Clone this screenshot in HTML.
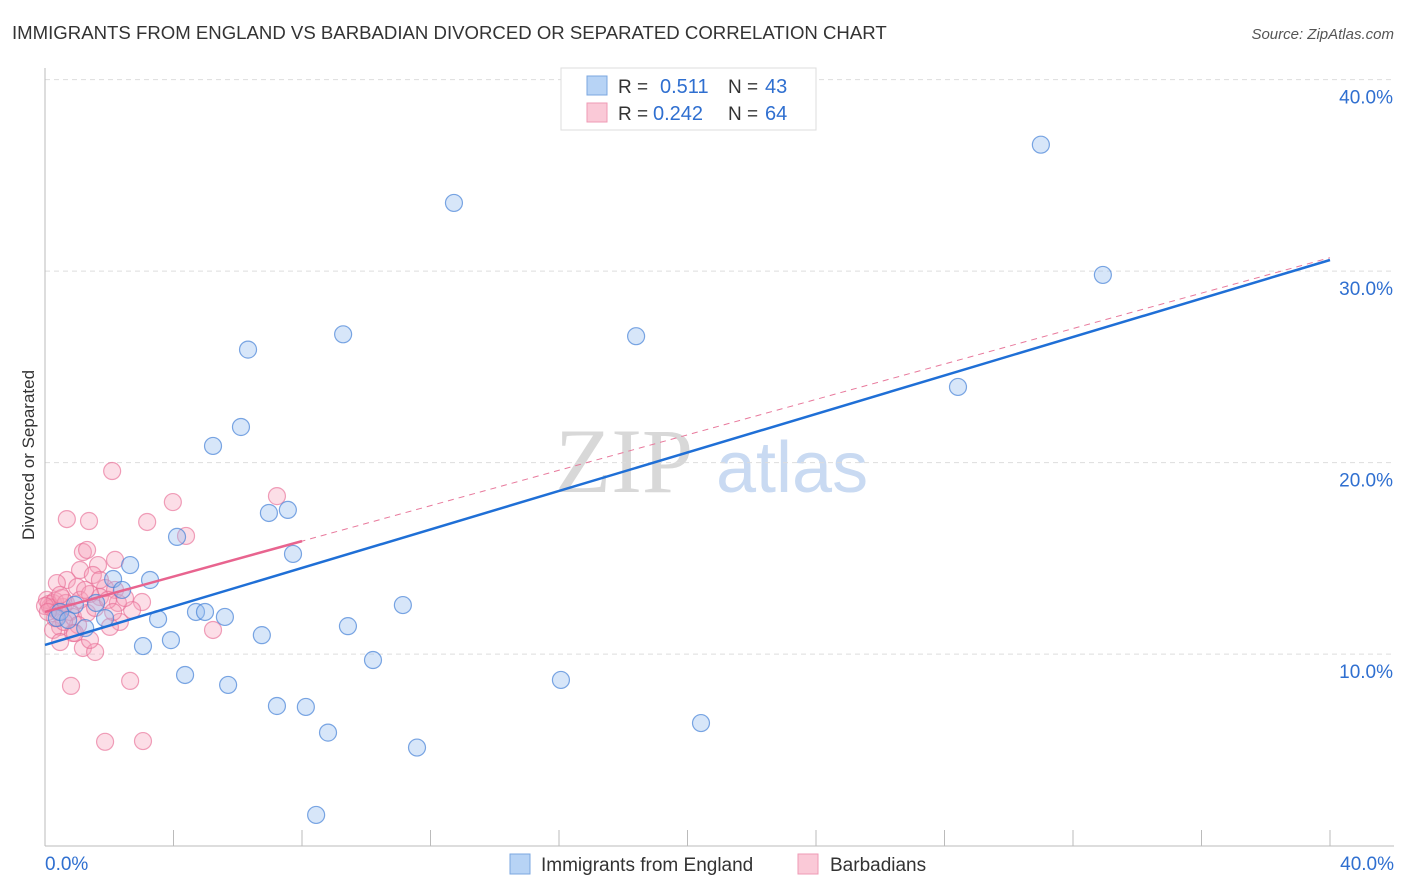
<!DOCTYPE html>
<html><head><meta charset="utf-8"><style>
body{margin:0;background:#fff;font-family:"Liberation Sans",sans-serif}
svg{display:block}
</style></head><body>
<svg id="chart" width="1406" height="892" xmlns="http://www.w3.org/2000/svg">
<text x="12" y="39" font-size="18.6" fill="#333">IMMIGRANTS FROM ENGLAND VS BARBADIAN DIVORCED OR SEPARATED CORRELATION CHART</text>
<text x="1394" y="39" font-size="15" fill="#555" font-style="italic" text-anchor="end">Source: ZipAtlas.com</text>
<text x="0" y="0" transform="translate(34,455) rotate(-90)" font-size="17" fill="#333" text-anchor="middle">Divorced or Separated</text>
<g>
<text x="555" y="492" font-size="92" font-family="Liberation Serif,serif" fill="#d8d8d8">ZIP</text>
<text x="716" y="492" font-size="72" fill="#c9daf2">atlas</text>
</g>
<g id="grid"></g><g id="axes"></g><g id="marks"></g>
<g>
<rect x="561" y="68" width="255" height="62" fill="#fff" stroke="#ddd"/>
<rect x="587" y="76" width="20" height="19" fill="#b7d3f5" stroke="#7ba7e0"/>
<rect x="587" y="103" width="20" height="19" fill="#fac9d7" stroke="#ef9ab4"/>
<text x="618" y="93" font-size="19" fill="#333">R = </text><text x="660" y="93" font-size="20" fill="#2f6fd0">0.511</text>
<text x="728" y="93" font-size="19" fill="#333">N = </text><text x="765" y="93" font-size="20" fill="#2f6fd0">43</text>
<text x="618" y="120" font-size="19" fill="#333">R = </text><text x="653" y="120" font-size="20" fill="#2f6fd0">0.242</text>
<text x="728" y="120" font-size="19" fill="#333">N = </text><text x="765" y="120" font-size="20" fill="#2f6fd0">64</text>
</g>
<g>
<rect x="510" y="854" width="20" height="20" fill="#b7d3f5" stroke="#7ba7e0"/>
<text x="541" y="871" font-size="19" fill="#333">Immigrants from England</text>
<rect x="798" y="854" width="20" height="20" fill="#fac9d7" stroke="#ef9ab4"/>
<text x="830" y="871" font-size="19" fill="#333">Barbadians</text>
</g>
</svg>
<script>
const yTicks=[10,20,30,40];
const xTickLabels=["0.0%","40.0%"];
const englandX=[31.0,12.73,32.93,9.28,18.40,6.32,28.42,6.10,5.23,7.56,6.97,4.11,7.72,2.65,3.27,2.12,2.40,1.59,11.14,4.70,4.98,5.60,3.52,0.37,1.25,9.43,6.75,3.92,3.05,10.21,4.36,5.70,16.06,7.22,8.12,20.42,8.81,11.58,8.44,0.47,0.93,1.87,0.72];
const englandY=[36.6,33.56,29.8,26.7,26.6,25.9,23.95,21.86,20.87,17.53,17.37,16.12,15.23,14.65,13.87,13.92,13.35,12.67,12.56,12.20,12.20,11.94,11.83,11.88,11.36,11.46,10.99,10.73,10.42,9.69,8.91,8.39,8.65,7.29,7.24,6.40,5.90,5.12,1.60,12.2,12.57,11.88,11.78];
const barbX=[2.09,3.98,7.22,0.68,1.37,3.18,4.39,1.18,1.31,1.65,1.09,1.49,0.68,0.37,1.00,1.87,2.18,3.02,2.71,2.27,1.71,0.25,0.16,0.56,0.87,1.31,2.33,2.02,0.47,0.25,0.87,0.47,1.18,1.56,5.23,0.81,2.65,1.87,3.05,0.06,0.12,0.22,0.31,0.0,0.40,0.53,0.65,0.78,1.09,1.40,1.56,1.96,2.12,2.49,1.03,1.25,1.71,0.59,0.31,0.09,0.93,1.40,2.18,0.47];
const barbY=[19.56,17.94,18.25,17.05,16.95,16.90,16.17,15.33,15.44,14.65,14.39,14.13,13.87,13.71,13.50,13.45,13.35,12.72,12.30,12.67,12.98,12.67,12.46,12.46,11.94,12.15,11.68,11.42,11.42,11.26,11.10,10.63,10.32,10.11,11.26,8.34,8.60,5.42,5.46,12.83,12.62,12.41,12.78,12.51,12.20,12.93,12.67,12.20,12.83,13.14,12.41,12.83,12.20,12.93,11.52,13.35,13.87,11.68,11.88,12.20,11.10,10.74,14.92,13.09];
const englandTrend=[10.48,30.58];
const barbTrend=[12.2,30.7];
const barbSolidEnd=8;
const NS="http://www.w3.org/2000/svg";
const X=v=>45+v/40*1285, Y=v=>845.6-v*19.15;
function mk(tag,attrs,parent){const e=document.createElementNS(NS,tag);for(const k in attrs)e.setAttribute(k,attrs[k]);parent.appendChild(e);return e;}
const grid=document.getElementById('grid'),axes=document.getElementById('axes'),marks=document.getElementById('marks');
yTicks.forEach(t=>{
 const l=mk('line',{x1:45,x2:1394,y1:Y(t),y2:Y(t),stroke:'#ddd','stroke-dasharray':'5,4'},grid);
 
 
 const tx=mk('text',{x:1393,y:Y(t)+24,'font-size':19,fill:'#2f6fd0','text-anchor':'end'},axes);
 tx.textContent=t.toFixed(1)+'%';
 
 
});
const ax=mk('line',{x1:45,x2:45,y1:68,y2:846,stroke:'#bbb'},axes);


const bx=mk('line',{x1:45,x2:1394,y1:846,y2:846,stroke:'#bbb'},axes);


for(let i=0;i<=40;i+=4){const t=mk('line',{x1:X(i),x2:X(i),y1:830,y2:846,stroke:'#bbb'},axes);
 
 }
[[0,'start',45],[40,'end',1394]].forEach((d,i)=>{const t=mk('text',{x:d[2],y:870,'font-size':19,fill:'#2f6fd0','text-anchor':d[1]},axes);t.textContent=xTickLabels[i];
 
 });
barbX.forEach((v,i)=>{const c=mk('circle',{cx:X(v),cy:Y(barbY[i]),r:8.5,fill:'rgba(245,160,185,0.35)',stroke:'rgba(232,110,150,0.65)','stroke-width':1.2},marks);
 
 });
englandX.forEach((v,i)=>{const c=mk('circle',{cx:X(v),cy:Y(englandY[i]),r:8.5,fill:'rgba(150,190,238,0.38)',stroke:'rgba(70,130,215,0.7)','stroke-width':1.2},marks);
 
 });
const bt=mk('line',{x1:X(0),y1:Y(englandTrend[0]),x2:X(40),y2:Y(englandTrend[1]),stroke:'#1f6fd6','stroke-width':2.5},marks);


const pd=mk('line',{x1:X(0),y1:Y(barbTrend[0]),x2:X(40),y2:Y(barbTrend[1]),stroke:'#e8799c','stroke-width':1,'stroke-dasharray':'6,5'},marks);


const ps=mk('line',{x1:X(0),y1:Y(barbTrend[0]),x2:X(barbSolidEnd),y2:Y(barbTrend[0]+(barbTrend[1]-barbTrend[0])*barbSolidEnd/40),stroke:'#e8648f','stroke-width':2.5},marks);


</script>
</body></html>
